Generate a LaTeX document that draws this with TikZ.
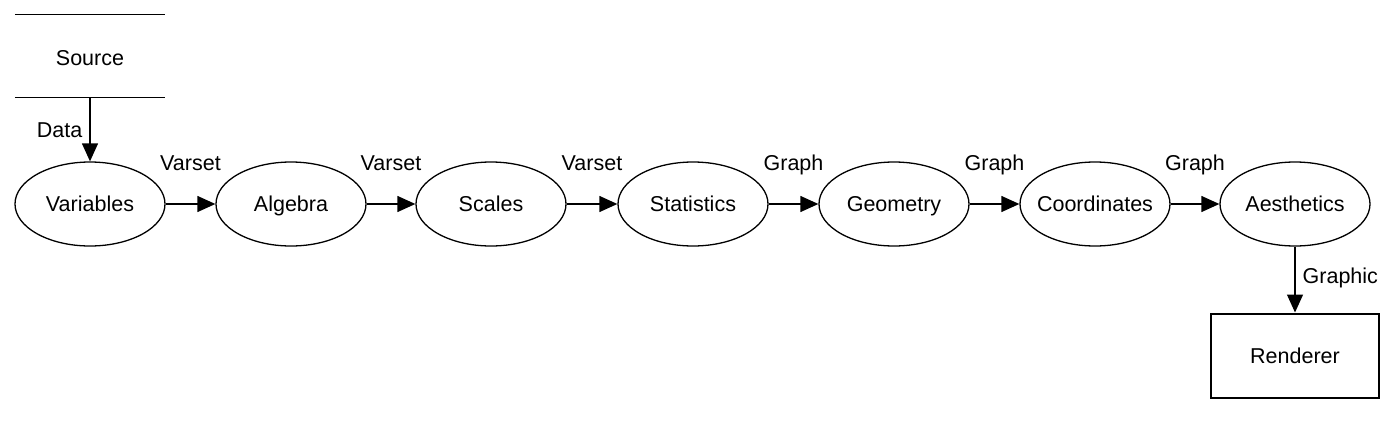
\documentclass[tikz,border=0pt]{standalone}
\usepackage{fontspec}
\setmainfont{Liberation Sans}
\usetikzlibrary{arrows.meta,shapes.geometric}
\newcommand{\ptxt}[1]{\makebox[60pt][c]{#1}}
\begin{document}
\begin{tikzpicture}[x=1pt,y=-1pt,
  every node/.style={font=\fontsize{21.5}{25}\selectfont,text height=15.5pt,text depth=0pt},
  proc/.style={ellipse,draw,line width=1.3pt,minimum width=150pt,minimum height=84pt,inner sep=0pt},
  store/.style={minimum width=150pt,minimum height=82pt,inner sep=0pt},
  rend/.style={draw,line width=2pt,minimum width=168pt,minimum height=84pt,inner sep=0pt},
  flow/.style={line width=1.3pt,-{Triangle[length=18pt,width=16pt]}},
  lbl/.style={inner sep=0pt}]
\useasboundingbox (0,0) rectangle (1400,442);
\node[store] (src) at (90,56) {\raisebox{-2pt}{Source}};
\draw[line width=1.3pt] (src.north west) -- (src.north east);
\draw[line width=1.3pt] (src.south west) -- (src.south east);
\node[proc] (var) at (90,204) {\ptxt{Variables}};
\node[proc] (alg) at (291,204) {\ptxt{Algebra}};
\node[proc] (sca) at (491,204) {\ptxt{Scales}};
\node[proc] (sta) at (693,204) {\ptxt{Statistics}};
\node[proc] (geo) at (894,204) {\ptxt{Geometry}};
\node[proc] (coo) at (1095,204) {\ptxt{Coordinates}};
\node[proc] (aes) at (1295,204) {\ptxt{Aesthetics}};
\node[rend] (ren) at (1295,355.5) {Renderer};
\draw[flow] (src.south) -- node[lbl,midway,left=7pt] {Data} (var.north);
\draw[flow] (var) -- node[lbl,midway,yshift=41pt] {Varset} (alg);
\draw[flow] (alg) -- node[lbl,midway,yshift=41pt] {Varset} (sca);
\draw[flow] (sca) -- node[lbl,midway,yshift=41pt] {Varset} (sta);
\draw[flow] (sta) -- node[lbl,midway,yshift=41pt] {Graph} (geo);
\draw[flow] (geo) -- node[lbl,midway,yshift=41pt] {Graph} (coo);
\draw[flow] (coo) -- node[lbl,midway,yshift=41pt] {Graph} (aes);
\draw[flow] (aes) -- node[lbl,midway,right=7pt,yshift=4pt] {Graphic} (ren);
\end{tikzpicture}
\end{document}
